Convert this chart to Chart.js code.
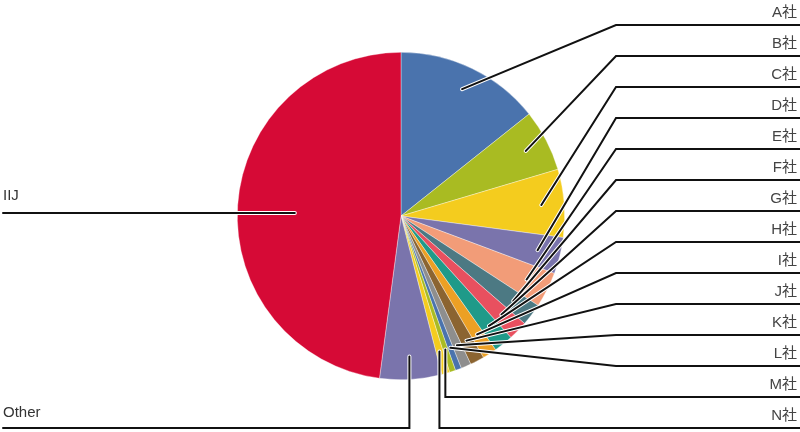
<!DOCTYPE html>
<html>
<head>
<meta charset="utf-8">
<script src="https://cdn.jsdelivr.net/npm/chart.js@4/dist/chart.umd.min.js"></script>
<style>
  html, body { margin: 0; padding: 0; background: #ffffff; }
  #wrap { width: 800px; height: 432px; position: relative; }
</style>
</head>
<body>
<div id="wrap"><canvas id="c" width="800" height="432"></canvas></div>
<script>
// ---- data ----
const categories = ["A社","B社","C社","D社","E社","F社","G社","H社","I社","J社","K社","L社","M社","N社","Other","IIJ"];
const shares = [14.3, 6.1, 6.7, 3.6, 3.5, 2.2, 1.9, 1.9, 1.4, 1.4, 1.0, 0.6, 0.6, 0.8, 6.1, 47.9];
const sliceColors = ["#4A73AD","#A9BB22","#F4CC1E","#7A74AC","#F29C78","#4C7983","#E8505F","#1F9A89",
                     "#ECA024","#8B6431","#8E8E8E","#4A73AD","#A9BB22","#F4CC1E","#7A74AC","#D60A36"];

const FONT = '15px "Liberation Sans", "Noto Sans CJK JP", sans-serif';

function drawLeader(ctx, pts) {
  ctx.save();
  ctx.lineJoin = 'miter';
  ctx.lineCap = 'round';
  ctx.beginPath();
  ctx.moveTo(pts[0][0], pts[0][1]);
  for (let k = 1; k < pts.length; k++) ctx.lineTo(pts[k][0], pts[k][1]);
  ctx.strokeStyle = '#ffffff';
  ctx.lineWidth = 4;
  ctx.stroke();
  ctx.strokeStyle = '#111111';
  ctx.lineWidth = 2;
  ctx.stroke();
  ctx.restore();
}

const leaderPlugin = {
  id: 'leaders',
  afterDraw(chart) {
    const ctx = chart.ctx;
    const meta = chart.getDatasetMeta(0);
    ctx.save();
    ctx.font = FONT;
    ctx.textBaseline = 'middle';
    meta.data.forEach((arc, i) => {
      const p = arc.getProps(['x','y','startAngle','endAngle','outerRadius'], true);
      const mid = (p.startAngle + p.endAngle) / 2;
      const name = categories[i];
      if (name === 'IIJ') {
        const r = p.outerRadius * 0.65;
        const ax = p.x + Math.cos(mid) * r, ay = p.y - 3;
        drawLeader(ctx, [[ax, ay], [3, ay]]);
        ctx.fillStyle = '#333333';
        ctx.textAlign = 'left';
        ctx.fillText(name, 3, ay - 17);
        return;
      }
      const r = p.outerRadius * 0.86;
      const ax = p.x + Math.cos(mid) * r, ay = p.y + Math.sin(mid) * r;
      if (name === 'Other') {
        const ly = 428;
        drawLeader(ctx, [[ax, ay], [ax, ly], [3, ly]]);
        ctx.fillStyle = '#333333';
        ctx.textAlign = 'left';
        ctx.fillText(name, 3, ly - 15);
        return;
      }
      const ly = 25 + 31 * i;
      let pts;
      if (name === 'M社' || name === 'N社') {
        pts = [[ax, ay], [ax, ly], [800, ly]];
      } else {
        pts = [[ax, ay], [616, ly], [800, ly]];
      }
      drawLeader(ctx, pts);
      ctx.fillStyle = '#444444';
      ctx.textAlign = 'right';
      ctx.fillText(name, 797, ly - 12);
    });
    ctx.restore();
  }
};

new Chart(document.getElementById('c'), {
  type: 'pie',
  data: {
    labels: categories,
    datasets: [{
      data: shares,
      backgroundColor: sliceColors,
      borderColor: 'rgba(255,255,255,0.6)',
      borderWidth: 0.6
    }]
  },
  options: {
    responsive: false,
    animation: false,
    rotation: 0,
    layout: { padding: { left: 237, right: 235, top: 52, bottom: 52 } },
    plugins: { legend: { display: false }, tooltip: { enabled: false } }
  },
  plugins: [leaderPlugin]
});
</script>
</body>
</html>
